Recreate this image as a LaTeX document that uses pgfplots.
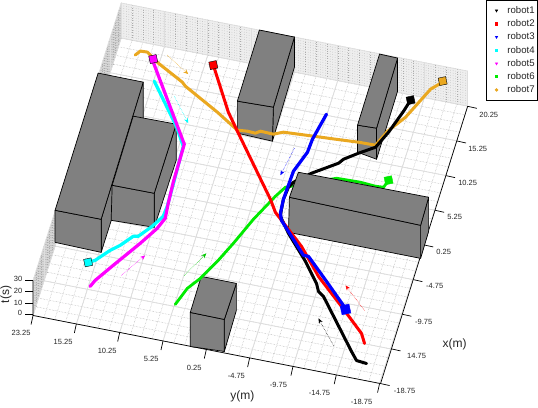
\documentclass[border=0pt]{standalone}
\usepackage{fontspec}
\setmainfont{Liberation Sans}
\usepackage{pgfplots}
\pgfplotsset{compat=1.18}
\usetikzlibrary{arrows.meta}
\definecolor{rorange}{RGB}{234,168,32}
\definecolor{rgreen}{RGB}{0,235,0}
\definecolor{rcyan}{RGB}{0,255,255}
\definecolor{rmag}{RGB}{255,0,255}
\definecolor{rred}{RGB}{255,0,0}
\definecolor{rblue}{RGB}{0,0,255}
\definecolor{bgray}{RGB}{128,128,128}
\definecolor{gmaj}{RGB}{222,222,222}
\definecolor{gmin}{RGB}{178,178,178}
\definecolor{gwall}{RGB}{172,172,172}
\definecolor{gback}{RGB}{238,238,238}
\newcommand{\tl}[2]{\node[font=\fontsize{7.5}{9}\selectfont,text=black!85] at (axis cs:#1) {#2};}
\newcommand{\al}[2]{\node[font=\fontsize{12}{13}\selectfont,text=black!85] at (axis cs:#1) {#2};}
\begin{document}
\begin{tikzpicture}
\begin{axis}[
  scale only axis, width=538pt, height=408pt,
  xmin=0, xmax=538, ymin=0, ymax=408, y dir=reverse,
  axis lines=none, clip=true,
  legend cell align=left,
  legend image code/.code={\path (0pt,0pt) (17pt,0pt); \draw[#1] plot coordinates {(8.5pt,0pt)};},
  legend style={at={(0.9985,0.9975)}, anchor=north east, draw=black, line width=0.7pt,
    font=\fontsize{9.6}{11}\selectfont, row sep=0.75pt, inner xsep=1pt, inner ysep=4pt,
    text=black!85},
]
% legend images
\addlegendimage{mark=triangle*, mark size=1.2, mark options={rotate=180, black, fill=black}}
\addlegendimage{mark=square*, mark size=1.1, mark options={rred, fill=rred}}
\addlegendimage{mark=triangle*, mark size=1.2, mark options={rotate=180, rblue, fill=rblue}}
\addlegendimage{mark=square*, mark size=1.1, mark options={rcyan, fill=rcyan}}
\addlegendimage{mark=triangle*, mark size=1.2, mark options={rotate=180, rmag, fill=rmag}}
\addlegendimage{mark=square*, mark size=1.1, mark options={rgreen, fill=rgreen}}
\addlegendimage{mark=*, mark size=1.3, mark options={rorange, fill=rorange}}
\legend{robot1,robot2,robot3,robot4,robot5,robot6,robot7}

% walls
\addplot[fill=gback, draw=none, forget plot] coordinates {(121,4)(467,72)(467,107)(121,39)} --cycle;
\addplot[fill=gback!80!gray, draw=none, forget plot] coordinates {(33,281)(121,4)(121,39)(33,316)} --cycle;
\pgfplotsinvokeforeach{0,...,14}{
  \draw[gwall, line width=0.5pt, dotted] (axis cs:121,{39-#1*2.5}) -- (axis cs:467,{107-#1*2.5});
  \draw[gwall, line width=0.5pt, dotted] (axis cs:33,{316-#1*2.5}) -- (axis cs:121,{39-#1*2.5});
}
\pgfplotsinvokeforeach{0,...,32}{
  \draw[gwall, line width=0.45pt, dotted] (axis cs:{121+#1*10.8125},{39+#1*2.125}) -- (axis cs:{121+#1*10.8125},{4+#1*2.125});
  \draw[gwall, line width=0.45pt, dotted] (axis cs:{33+#1*2.75},{316-#1*8.656}) -- (axis cs:{33+#1*2.75},{281-#1*8.656});
}
\pgfplotsinvokeforeach{0,4,...,32}{
  \draw[gmaj, line width=0.7pt] (axis cs:{121+#1*10.8125},{39+#1*2.125}) -- (axis cs:{121+#1*10.8125},{4+#1*2.125});
  \draw[gmaj, line width=0.6pt] (axis cs:{33+#1*2.75},{316-#1*8.656}) -- (axis cs:{33+#1*2.75},{281-#1*8.656});
}
\draw[gmaj, line width=0.7pt] (axis cs:121,4) -- (axis cs:467,72);
\draw[gmaj, line width=0.7pt] (axis cs:33,281) -- (axis cs:121,4);
% floor grid
\pgfplotsinvokeforeach{0,...,32}{
  \draw[gmin, line width=0.5pt, densely dotted] (axis cs:{33+#1*10.8125},{316+#1*2.125}) -- (axis cs:{121+#1*10.8125},{39+#1*2.125});
  \draw[gmin, line width=0.5pt, densely dotted] (axis cs:{33+#1*2.75},{316-#1*8.656}) -- (axis cs:{379+#1*2.75},{384-#1*8.656});
}
\pgfplotsinvokeforeach{0,4,...,32}{
  \draw[gmaj, line width=0.8pt] (axis cs:{33+#1*10.8125},{316+#1*2.125}) -- (axis cs:{121+#1*10.8125},{39+#1*2.125});
  \draw[gmaj, line width=0.8pt] (axis cs:{33+#1*2.75},{316-#1*8.656}) -- (axis cs:{379+#1*2.75},{384-#1*8.656});
}
% axes and ticks
\pgfplotsset{axl/.style={black, line width=0.7pt, forget plot}}
\addplot[axl] coordinates {(33,281)(33,316)(380,384)(467,107)};
\pgfplotsinvokeforeach{0,...,8}{
  \draw[black, line width=0.7pt] (axis cs:{33+#1*43.25},{316+#1*8.5}) -- (axis cs:{31+#1*43.25},{325+#1*8.5});
  \draw[black, line width=0.7pt] (axis cs:{380+#1*10.9},{384-#1*34.6}) -- (axis cs:{389+#1*10.9},{386-#1*34.6});
}
\addplot[axl] coordinates {(25,281)(33,281)};
\addplot[axl] coordinates {(25,292)(33,292)};
\addplot[axl] coordinates {(25,304)(33,304)};
\addplot[axl] coordinates {(25,315)(33,315)};

% tick labels
\tl{21,333}{23.25}\tl{63,342}{15.25}\tl{107,351}{10.25}\tl{151,359}{5.25}\tl{194,368}{0.25}
\tl{236,376}{-4.75}\tl{278,385}{-9.75}\tl{319,393}{-14.75}\tl{361,402}{-18.75}
\tl{488,116}{20.25}\tl{477,150}{15.25}\tl{467,184}{10.25}\tl{454,218}{5.25}\tl{443,253}{0.25}
\tl{434,287}{-4.75}\tl{423,322}{-9.75}\tl{416,356}{14.75}\tl{404,391}{-18.75}
\tl{18,280}{30}\tl{18,291}{20}\tl{18,303}{10}\tl{20,313}{0}
\al{242,397}{y(m)}\al{454,345}{x(m)}
\node[font=\fontsize{12}{13}\selectfont,text=black!85,rotate=90] at (axis cs:6,295) {t(s)};

\pgfplotsset{bld/.style={fill=bgray, draw=black, line width=0.7pt, line join=round, forget plot}}
% building B1, B2
\addplot[bld] coordinates {(143,83)(143,120)(101,253)(101,220)} --cycle;
\addplot[bld] coordinates {(55,211)(101,220)(101,253)(55,243)} --cycle;
\addplot[bld] coordinates {(98,74)(143,83)(101,220)(55,211)} --cycle;
\addplot[bld] coordinates {(176,125)(176,161)(154,228)(154,194)} --cycle;
\addplot[bld] coordinates {(112,186)(154,194)(154,228)(111,221)} --cycle;
\addplot[bld] coordinates {(133,117)(176,125)(154,194)(112,186)} --cycle;
% building B3
\addplot[bld] coordinates {(294,38)(294,68)(272,142)(273,108)} --cycle;
\addplot[bld] coordinates {(237,102)(273,108)(272,142)(237,134)} --cycle;
\addplot[bld] coordinates {(259,31)(294,38)(273,108)(237,102)} --cycle;
% building B4
\addplot[bld] coordinates {(397,59)(397,92)(376,160)(376,129)} --cycle;
\addplot[bld] coordinates {(357,126)(376,129)(376,160)(357,153)} --cycle;
\addplot[bld] coordinates {(379,55)(397,59)(376,129)(357,126)} --cycle;
% building B6
\addplot[bld] coordinates {(236,284)(236,311)(224,352)(224,320)} --cycle;
\addplot[bld] coordinates {(190,313)(224,320)(224,352)(190,347)} --cycle;
\addplot[bld] coordinates {(201,277)(236,284)(224,320)(190,313)} --cycle;

\pgfplotsset{trj/.style={line width=#1, line join=round, line cap=round, forget plot, no marks}}
% robot6
\addplot[trj=2.8pt, rgreen] coordinates {(388,181)(383,188)(375,187)(360,183)(336,179)(285,188)(275,197)(253,220)(233,244)(217,262)(200,279)(187,289)(175,305)};
% robot7
\addplot[trj=3pt, rorange] coordinates {(442,83)(430,90)(405,118)(387,132)(375,146)(358,143)(335,140)(313,137)(283,133)(273,135)(260,132)(255,134)(247,132)(237,131)(217,113)(185,87)(182,83)(158,64)(147,53)(140,52)(135,56)};
% robot1
\addplot[trj=3pt, black] coordinates {(410,101)(403,112)(388,133)(375,148)(358,154)(343,160)(338,164)(311,174)(293,183)(288,188)(283,200)(281,210)(280,217)(288,234)(305,262)(316,284)(318,292)(323,297)(351,352)(356,361)(366,364)};
% building B5 (hides part of robot1 and robot6)
\addplot[bld] coordinates {(428,198)(428,232)(420,259)(420,226)} --cycle;
\addplot[bld] coordinates {(289,198)(420,226)(420,259)(288,233)} --cycle;
\addplot[bld] coordinates {(298,173)(428,198)(420,226)(289,198)} --cycle;
% robot2
\addplot[trj=3pt, rred] coordinates {(213,66)(228,113)(237,132)(270,200)(275,213)(301,247)(318,277)(341,307)(361,334)(364,344)};
% robot3
\addplot[trj=3.2pt, rblue] coordinates {(326,115)(312,140)(307,153)(293,172)(283,200)(280,214)(281,221)(303,256)(308,257)(326,282)(345,309)};
% robot4
\addplot[trj=3.2pt, rcyan] coordinates {(88,263)(95,261)(110,251)(120,246)(133,237)(138,237)(152,227)(163,217)(167,207)(173,185)(183,147)(176,127)(154,82)};
% robot5
\addplot[trj=3.2pt, rmag] coordinates {(153,63)(184,145)(173,183)(168,204)(165,219)(157,229)(140,244)(113,266)(95,281)(90,287)};

% direction arrows
\pgfplotsset{arw/.style={line width=0.5pt, densely dotted, forget plot, no marks, -{Stealth[length=5pt,width=4pt]}}}
\addplot[arw, rorange] coordinates {(167,56)(188,75)};
\addplot[arw, rcyan] coordinates {(174,97)(188,124)};
\addplot[arw, rmag] coordinates {(121,276)(145,256)};
\addplot[arw, rgreen!85!black] coordinates {(184,276)(206,254)};
\addplot[arw, rblue] coordinates {(294,149)(280,176)};
\addplot[arw, rred] coordinates {(364,311)(345,286)};
\addplot[arw, black] coordinates {(333,346)(318,319)};

% start marks
\pgfplotsset{sq/.style={only marks, forget plot, mark=square*, mark size=3.8pt}}
\addplot[sq, mark options={rotate=12, fill=black, draw=black}] coordinates {(410,101)};
\addplot[sq, mark options={rotate=12, fill=rred, draw=black}] coordinates {(213,66)};
\addplot[sq, mark size=4.5pt, mark options={rotate=12, fill=rblue, draw=rblue}] coordinates {(345,310)};
\addplot[sq, mark options={rotate=12, fill=rcyan, draw=black}] coordinates {(88,263)};
\addplot[sq, mark options={rotate=12, fill=rmag, draw=black}] coordinates {(153,60)};
\addplot[sq, mark options={rotate=12, fill=rgreen, draw=rgreen}] coordinates {(388,181)};
\addplot[sq, mark options={rotate=12, fill=rorange, draw=black}] coordinates {(442,82)};
\end{axis}
\end{tikzpicture}
\end{document}
